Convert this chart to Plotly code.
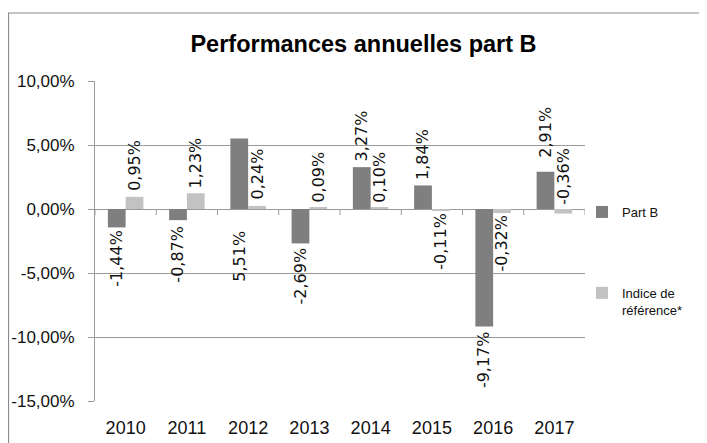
import plotly.graph_objects as go

# ---- data ----
years = ["2010", "2011", "2012", "2013", "2014", "2015", "2016", "2017"]
part_b = [-1.44, -0.87, 5.51, -2.69, 3.27, 1.84, -9.17, 2.91]
indice = [0.95, 1.23, 0.24, 0.09, 0.10, -0.11, -0.32, -0.36]
y_tickvals = [10, 5, 0, -5, -10, -15]
y_ticktext = [f"{v:.2f}".replace(".", ",") + "%" for v in y_tickvals]
series_names = ["Part B", "Indice de<br>référence*"]

# ---- label placement (style, not data) ----
# "end": at bar end; "below"/"above": anchored at zero line
side_b = ["end", "end", "below", "end", "end", "end", "end", "end"]
side_i = ["end", "end", "end", "end", "end", "end", "end", "above"]
extra_b = [0, 3, 20, 2, 4, 4, 3, 12]
extra_i = [4, 3, 4, 3, 3, 0, 0, 2]

DARK = "#7f7f7f"
LIGHT = "#c2c2c2"
GRID = "#9a9a9a"
BARGAP = 0.42

# page body adds an 8px margin, so the figure is 8px smaller
W, H = 699, 435
ML, MR, MT, MB = 87, 122, 73, 42

fig = go.Figure()
fig.add_trace(go.Bar(x=years, y=part_b, name=series_names[0],
                     marker=dict(color=DARK, line=dict(width=0)),
                     legendgroup="a", hoverinfo="skip"))
fig.add_trace(go.Bar(x=years, y=indice, name=series_names[1],
                     marker=dict(color=LIGHT, line=dict(width=0)),
                     legendgroup="b", hoverinfo="skip"))

def fmt(v):
    return f"{v:.2f}".replace(".", ",") + "%"

bw = (1 - BARGAP) / 2
annotations = []
for vals, sides, extra, off in ((part_b, side_b, extra_b, -bw / 2),
                                (indice, side_i, extra_i, bw / 2)):
    for i, v in enumerate(vals):
        s = sides[i]
        if s == "end":
            y = v
            up = v >= 0
        elif s == "above":
            y = 0
            up = True
        else:
            y = 0
            up = False
        annotations.append(dict(
            x=i + off, y=y, xref="x", yref="y", text=fmt(v), showarrow=False,
            textangle=-90, yanchor="bottom" if up else "top", xanchor="center",
            yshift=(extra[i]) if up else -(extra[i]),
            font=dict(family="DejaVu Sans", size=16, color="#111111")))

# category tick marks on the zero line
shapes = []
for k in range(len(years) + 1):
    shapes.append(dict(type="line", xref="x", yref="y", x0=k - 0.5, x1=k - 0.5,
                       ysizemode="pixel", yanchor=0, y0=0, y1=-6,
                       line=dict(color=GRID, width=1)))
# outer chart border
pw = W - ML - MR
ph = H - MT - MB
shapes.append(dict(type="rect", xref="paper", yref="paper",
                   x0=(0.5 - ML) / pw, x1=(W + 5 - ML) / pw,
                   y0=(H - MB - (H + 5)) / ph, y1=(H - MB - 5) / ph,
                   line=dict(color="#8a8a8a", width=1.2), fillcolor="rgba(0,0,0,0)",
                   layer="below"))

fig.update_layout(
    width=W, height=H,
    margin=dict(l=ML, r=MR, t=MT, b=MB, autoexpand=False),
    paper_bgcolor="white", plot_bgcolor="white",
    barmode="group", bargap=BARGAP, bargroupgap=0,
    title=dict(text="<b>Performances annuelles part B</b>",
               font=dict(family="Liberation Sans", size=23.5, color="#000000"),
               x=355.5 / W, xanchor="center", xref="container",
               y=1 - 36 / H, yanchor="middle", yref="container"),
    xaxis=dict(type="category", range=[-0.5, len(years) - 0.5],
               showgrid=False, zeroline=False, showline=False, ticks="",
               tickfont=dict(family="Liberation Sans", size=18, color="#111111"),
               ticklabelstandoff=14, fixedrange=True),
    yaxis=dict(range=[-15, 10], tickvals=y_tickvals, ticktext=y_ticktext,
               showgrid=True, gridcolor=GRID, gridwidth=1,
               zeroline=True, zerolinecolor=GRID, zerolinewidth=1,
               showline=True, linecolor=GRID, linewidth=1,
               ticks="outside", ticklen=6, tickcolor=GRID,
               tickfont=dict(family="Liberation Sans", size=17, color="#111111"),
               ticklabelstandoff=10, fixedrange=True),
    legend=dict(x=(574 - ML) / pw, xanchor="left", y=(H - MB - 189) / ph, yanchor="top",
                font=dict(family="Liberation Sans", size=13, color="#111111"),
                tracegroupgap=61, valign="top", bgcolor="rgba(0,0,0,0)",
                itemclick=False, itemdoubleclick=False),
    annotations=annotations,
    shapes=shapes,
    showlegend=True,
)

fig.write_html("out.html")
